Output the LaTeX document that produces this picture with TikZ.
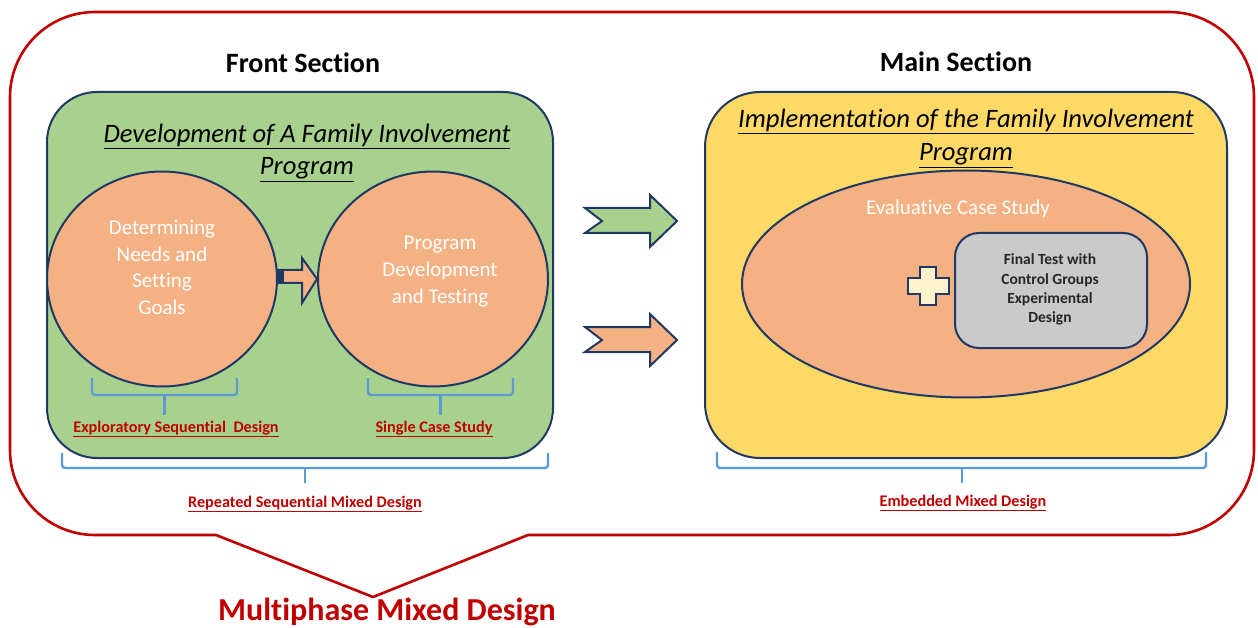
\documentclass[tikz,border=0pt]{standalone}
\usepackage{fontspec}
\setmainfont{Carlito}[Ligatures={NoCommon}]
\usetikzlibrary{shapes.geometric}
\definecolor{edgeblue}{HTML}{1F3864}
\definecolor{greenfill}{HTML}{A9D18E}
\definecolor{orangefill}{HTML}{F4B183}
\definecolor{yellowfill}{HTML}{FFD966}
\definecolor{grayfill}{HTML}{CACACA}
\definecolor{plusfill}{HTML}{FFF2CC}
\definecolor{darkred}{HTML}{C00000}
\definecolor{braceblue}{HTML}{5B9BD5}
\definecolor{graytext}{HTML}{262626}
\tikzset{
  panel/.style={draw=edgeblue, line width=2pt, rectangle, inner sep=0pt},
  blob/.style={draw=edgeblue, line width=2pt, fill=orangefill, ellipse, inner sep=0pt},
  heading/.style={anchor=base, font=\fontsize{28}{32}\selectfont\bfseries},
  title/.style={anchor=base, font=\fontsize{26.6}{30}\selectfont\itshape},
  whitetext/.style={anchor=base, text=white, font=\fontsize{21}{25}\selectfont},
  redlabel/.style={anchor=base, text=darkred, font=\fontsize{16.2}{19}\selectfont\bfseries},
  boxtext/.style={anchor=base, text=graytext, font=\fontsize{15.5}{19}\selectfont\bfseries},
  bracket/.style={draw=braceblue, line width=2.4pt, rounded corners=3pt},
  blockarrow/.style={draw=edgeblue, line width=2pt, line join=miter},
}
\begin{document}
\begin{tikzpicture}[x=1pt,y=1pt]
\useasboundingbox (0,0) rectangle (1258,-628);
\fill[white] (0,0) rectangle (1258,-628);

% outer callout frame with its pointer
\draw[darkred, line width=2.6pt, line join=round]
  (216,-535) -- (373,-597) -- (528,-535) -- (1169,-535)
  arc[start angle=-90, end angle=0, radius=85] -- (1254,-97)
  arc[start angle=0, end angle=90, radius=85] -- (95,-12)
  arc[start angle=90, end angle=180, radius=85] -- (10,-450)
  arc[start angle=180, end angle=270, radius=85] -- cycle;

% section headings
\node[heading] (fronthead) at (303,-73) {Front Section};
\node[heading] (mainhead) at (956,-72) {Main Section};

% front section panel
\node[panel, fill=greenfill, rounded corners=50pt, minimum width=506pt, minimum height=366pt] (front) at (300,-275) {};
\node[title] (ft1) at (307,-143) {\underline{Development of A Family Involvement}};
\node[title] (ft2) at (307,-175) {\underline{Program}};

\node[blob, minimum width=230pt, minimum height=215pt] (needs) at (162,-279) {};
\node[blob, minimum width=230pt, minimum height=215pt] (develop) at (433,-279) {};

\node[whitetext] (n1) at (162,-235) {Determining};
\node[whitetext] (n2) at (162,-262) {Needs and};
\node[whitetext] (n3) at (162,-288) {Setting};
\node[whitetext] (n4) at (162,-315) {Goals};

\node[whitetext] (d1) at (440,-250) {Program};
\node[whitetext] (d2) at (440,-277) {Development};
\node[whitetext] (d3) at (440,-303) {and Testing};

% arrow from the first circle to the second
\draw[blockarrow, fill=orangefill]
  (needs.east |- 0,-270) -- (302,-270) -- (302,-258) -- (develop.west) -- (302,-303) -- (302,-283) -- (needs.east |- 0,-283) -- cycle;
\fill[edgeblue] (needs.east |- 0,-269) rectangle (284,-284);

% braces under the circles
\draw[bracket] (92,-378) -- (92,-395) -- (237,-395) -- (237,-378);
\draw[bracket] (164.5,-395) -- (164.5,-415);
\draw[bracket] (368,-378) -- (368,-395) -- (513,-395) -- (513,-378);
\draw[bracket] (440.5,-395) -- (440.5,-415);

\node[redlabel] (explo) at (176,-432) {\underline{Exploratory Sequential\ \ Design}};
\node[redlabel] (single) at (434,-432) {\underline{Single Case Study}};

% brace under the front section
\draw[bracket] (62,-453) -- (62,-468) -- (548,-468) -- (548,-453);
\draw[bracket] (305,-468) -- (305,-483);
\node[redlabel] (repeated) at (305,-507) {\underline{Repeated Sequential Mixed Design}};

% block arrows between the sections
\draw[blockarrow, fill=greenfill]
  (585,-208) -- (650,-208) -- (650,-195) -- (677,-221) -- (650,-247) -- (650,-233) -- (585,-233) -- (602,-221) -- cycle;
\draw[blockarrow, fill=orangefill]
  (585,-327) -- (650,-327) -- (650,-314) -- (677,-340) -- (650,-366) -- (650,-352) -- (585,-352) -- (602,-340) -- cycle;

% main section panel
\node[panel, fill=yellowfill, rounded corners=55pt, minimum width=522pt, minimum height=366pt] (mainsec) at (966,-275) {};
\node[title] (mt1) at (966,-128) {\underline{Implementation of the Family Involvement}};
\node[title] (mt2) at (966,-161) {\underline{Program}};

\node[blob, minimum width=448pt, minimum height=227pt] (evalcase) at (966,-284) {};
\node[whitetext] (evtext) at (958,-215) {Evaluative Case Study};

% plus sign
\draw[blockarrow, fill=plusfill]
  (920,-267) -- (936,-267) -- (936,-278) -- (949,-278) -- (949,-294) -- (936,-294) -- (936,-305)
  -- (920,-305) -- (920,-294) -- (908,-294) -- (908,-278) -- (920,-278) -- cycle;

\node[panel, fill=grayfill, rounded corners=24pt, minimum width=192pt, minimum height=115pt] (finaltest) at (1051,-290.5) {};
\node[boxtext] (f1) at (1050,-265) {Final Test with};
\node[boxtext] (f2) at (1050,-285) {Control Groups};
\node[boxtext] (f3) at (1050,-304) {Experimental};
\node[boxtext] (f4) at (1050,-323) {Design};

% brace under the main section
\draw[bracket] (717,-452) -- (717,-468) -- (1206,-468) -- (1206,-452);
\draw[bracket] (962,-468) -- (962,-483);
\node[redlabel] (embedded) at (963,-506) {\underline{Embedded Mixed Design}};

% overall design name
\node[anchor=base, text=darkred, font=\fontsize{32}{36}\selectfont\bfseries] (multi) at (387,-620) {Multiphase Mixed Design};
\end{tikzpicture}
\end{document}
